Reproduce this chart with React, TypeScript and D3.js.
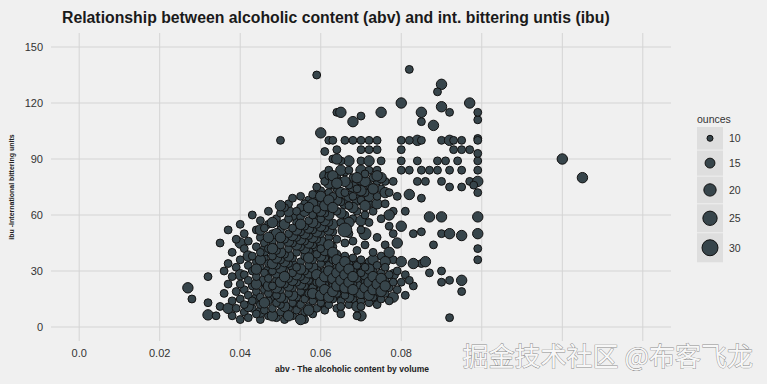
import React from "react";
import * as d3 from "d3";

// ---------- data ----------
const abvTicks = [0, 0.02, 0.04, 0.06, 0.08, 0.1, 0.12, 0.14];
const abvTickLabels = ["0.0", "0.02", "0.04", "0.06", "0.08", "0.1", "0.12", "0.14"];
const ibuTicks = [0, 30, 60, 90, 120, 150];
const ounceKeys = [10, 15, 20, 25, 30];

// 12 oz cans: [abv, ibu values]
const cans12: [number, number[]][] = [
  [0.028, [15]],
  [0.032, [13, 27]],
  [0.034, [6]],
  [0.035, [11, 45]],
  [0.036, [18, 30]],
  [0.037, [23, 34, 52]],
  [0.038, [6, 14, 27, 40]],
  [0.039, [10, 19, 32, 47]],
  [0.04, [4, 15, 23, 36, 55]],
  [0.041, [8, 12, 20, 28, 42, 50]],
  [0.042, [5, 17, 25, 33, 46]],
  [0.043, [10, 14, 22, 30, 38, 60]],
  [0.044, [7, 19, 27, 35, 43, 52]],
  [0.045, [4, 12, 16, 24, 32, 40, 48, 57]],
  [0.046, [9, 20, 29, 37, 45, 53]],
  [0.047, [6, 14, 18, 26, 34, 42, 55, 62]],
  [0.048, [10, 22, 30, 38, 46, 50]],
  [0.049, [5, 13, 17, 25, 33, 41, 58]],
  [0.05, [8, 12, 20, 28, 36, 44, 52, 55, 61, 100]],
  [0.051, [4, 15, 23, 31, 39, 47, 64]],
  [0.052, [10, 18, 26, 34, 42, 50, 58, 66]],
  [0.053, [6, 13, 21, 29, 37, 45, 53, 69]],
  [0.054, [9, 16, 24, 32, 40, 48, 56, 62]],
  [0.055, [5, 12, 19, 27, 35, 43, 51, 59, 64, 70]],
  [0.056, [4, 8, 15, 22, 30, 38, 46, 54, 66]],
  [0.057, [11, 18, 25, 33, 41, 49, 57, 68]],
  [0.058, [7, 14, 21, 28, 36, 44, 52, 60, 71]],
  [0.059, [10, 17, 24, 31, 39, 47, 55, 63, 75, 135]],
  [0.06, [13, 20, 27, 34, 42, 50, 58, 66, 73]],
  [0.061, [9, 11, 16, 23, 30, 37, 45, 53, 61, 69, 78, 94]],
  [0.062, [12, 19, 26, 33, 40, 48, 56, 64, 72, 81, 84, 100]],
  [0.063, [15, 22, 29, 36, 43, 51, 70, 76, 90, 100]],
  [0.064, [10, 18, 25, 32, 39, 47, 62, 74, 81, 95, 115]],
  [0.065, [7, 11, 14, 21, 28, 35, 56, 67, 78, 89]],
  [0.066, [17, 24, 31, 38, 45, 60, 72, 83, 100]],
  [0.067, [12, 20, 27, 34, 50, 65, 76, 84]],
  [0.068, [15, 23, 30, 37, 46, 58, 70, 80, 100]],
  [0.069, [6, 18, 26, 33, 41, 62, 74]],
  [0.07, [11, 14, 21, 29, 36, 52, 68, 78, 89, 95, 100, 113]],
  [0.071, [17, 24, 32, 44, 60, 72, 82]],
  [0.072, [13, 20, 27, 35, 56, 66, 76, 84, 95, 100]],
  [0.073, [16, 23, 30, 40, 62, 80]],
  [0.074, [12, 19, 26, 33, 48, 70, 78, 84, 95, 100]],
  [0.075, [15, 22, 29, 38, 58, 74, 89]],
  [0.076, [18, 25, 32, 44, 66, 78]],
  [0.077, [14, 21, 28, 40, 54, 72]],
  [0.078, [16, 24, 36, 50, 62, 78]],
  [0.079, [20, 30, 45, 70]],
  [0.08, [24, 35, 54, 84, 89, 95, 100]],
  [0.081, [17, 28, 62]],
  [0.082, [25, 71, 84, 100, 138]],
  [0.083, [22, 34, 50]],
  [0.084, [78, 89]],
  [0.085, [34, 51, 69, 84, 100, 110]],
  [0.086, [35, 78]],
  [0.087, [29, 59, 84]],
  [0.088, [44]],
  [0.089, [84, 89, 126]],
  [0.09, [24, 30, 50, 59, 78, 100]],
  [0.091, [89]],
  [0.092, [5, 25, 50, 75, 84, 115]],
  [0.093, [95, 100]],
  [0.094, [89]],
  [0.095, [19, 25, 49, 75, 84, 95, 100]],
  [0.097, [78, 95]],
  [0.098, [76]],
  [0.099, [36, 42, 50, 59, 72, 84, 89, 93, 100, 101, 111, 115]],
];

// 16 oz cans: [abv, ibu values]
const cans16: [number, number[]][] = [
  [0.027, [21]],
  [0.032, [6.5]],
  [0.037, [10]],
  [0.04, [28, 45]],
  [0.042, [11, 38]],
  [0.044, [15, 23, 31]],
  [0.045, [8, 36, 52]],
  [0.046, [13, 25, 41]],
  [0.047, [22, 30, 48]],
  [0.048, [6, 16, 34, 42, 56]],
  [0.049, [21, 29, 37, 50]],
  [0.05, [16, 24, 40, 48, 65]],
  [0.051, [11, 27, 35, 55]],
  [0.052, [6, 22, 38, 46, 62]],
  [0.053, [17, 25, 33, 49, 60]],
  [0.054, [12, 28, 44, 52]],
  [0.055, [4, 23, 31, 47, 55]],
  [0.056, [18, 26, 42, 50, 62]],
  [0.057, [9, 29, 37, 45, 53, 64]],
  [0.058, [18, 32, 40, 48, 56, 66]],
  [0.059, [20, 28, 43, 51, 60, 70]],
  [0.06, [17, 24, 38, 46, 54, 62, 70, 104]],
  [0.061, [20, 27, 41, 57, 65, 81]],
  [0.062, [16, 30, 44, 52, 60, 68, 77]],
  [0.063, [19, 26, 40, 55, 64, 81]],
  [0.064, [22, 29, 36, 68, 77, 90]],
  [0.065, [17, 25, 32, 61, 72, 84, 115]],
  [0.066, [21, 28, 35, 66, 78]],
  [0.067, [16, 24, 31, 56, 70, 89]],
  [0.068, [20, 27, 34, 64, 75, 110]],
  [0.069, [11, 22, 30, 68, 80]],
  [0.07, [6, 18, 26, 33, 57, 73, 84]],
  [0.071, [21, 28, 65, 78]],
  [0.072, [17, 24, 31, 70, 89]],
  [0.073, [20, 27, 36, 74]],
  [0.074, [15, 23, 66, 81]],
  [0.075, [19, 26, 80, 115]],
  [0.076, [22, 35, 72]],
  [0.077, [40, 60]],
  [0.078, [16, 28]],
  [0.079, [45]],
  [0.08, [35, 54, 120]],
  [0.082, [71]],
  [0.083, [34]],
  [0.084, [100]],
  [0.085, [115]],
  [0.086, [35]],
  [0.087, [59]],
  [0.088, [108]],
  [0.09, [59, 118, 130]],
  [0.092, [50, 100]],
  [0.095, [25, 49]],
  [0.097, [120]],
  [0.099, [50, 59, 78]],
  [0.12, [90]],
  [0.125, [80]],
];

// larger cans: [abv, ibu, ounces]
const cansLarge: [number, number, number][] = [
  [0.05, 32, 19.2],
  [0.057, 24, 24],
  [0.062, 36, 19.2],
  [0.066, 52, 24],
  [0.071, 50, 19.2],
];

// ---------- layout ----------
const W = 767;
const H = 384;
const FONT = "'Liberation Sans', Arial, Helvetica, sans-serif";

const x = d3.scaleLinear().domain([-0.007, 0.147]).range([51, 671]);
const y = d3.scaleLinear().domain([-7.5, 157.5]).range([341, 33]);
const sizeNorm = d3.scaleLinear().domain([8.4, 32]).range([0, 1]).clamp(true);
const radius = (oz: number) => 1.64 + 7.17 * Math.sqrt(sizeNorm(oz));

type Pt = { abv: number; ibu: number; oz: number; k: number };

function buildPoints(): Pt[] {
  const pts: Pt[] = [];
  cans12.forEach(([abv, ibus]) => ibus.forEach((ibu) => pts.push({ abv, ibu, oz: 12, k: 0 })));
  cans16.forEach(([abv, ibus]) => ibus.forEach((ibu) => pts.push({ abv, ibu, oz: 16, k: 0 })));
  cansLarge.forEach(([abv, ibu, oz]) => pts.push({ abv, ibu, oz, k: 0 }));
  pts.forEach((p) => {
    p.k = (Math.round(p.abv * 1000) * 37 + Math.round(p.ibu * 2) * 11) % 17;
  });
  return d3.sort(pts, (a, b) => a.k - b.k);
}

const POINT_FILL = "#37454b";
const POINT_STROKE = "#111111";
const BG = "#f0f0f0";

export default function App() {
  const points = buildPoints();

  // legend key geometry
  const keyHeights = ounceKeys.map((oz) => 18 + 0.65 * 2 * radius(oz));
  const keyTops: number[] = [];
  let acc = 127;
  keyHeights.forEach((h) => {
    keyTops.push(acc);
    acc += h + 1;
  });

  const [x0, x1] = x.range();
  const [y0, y1] = y.range();

  return (
    <svg
      width={W}
      height={H}
      style={{ position: "absolute", left: 0, top: 0, display: "block" }}
      fontFamily={FONT}
    >
      <rect x={0} y={0} width={W} height={H} fill={BG} />

      {/* grid */}
      {abvTicks.map((t) => (
        <line key={"vx" + t} x1={x(t)} x2={x(t)} y1={y1} y2={y0} stroke="#d4d4d4" strokeWidth={1} />
      ))}
      {ibuTicks.map((t) => (
        <line key={"hy" + t} x1={x0} x2={x1} y1={y(t)} y2={y(t)} stroke="#d4d4d4" strokeWidth={1} />
      ))}

      {/* points */}
      <g>
        {points.map((p, i) => (
          <circle
            key={i}
            cx={x(p.abv)}
            cy={y(p.ibu)}
            r={radius(p.oz) - 0.5}
            fill={POINT_FILL}
            stroke={POINT_STROKE}
            strokeWidth={1}
          />
        ))}
      </g>

      {/* y tick labels */}
      {ibuTicks.map((t) => (
        <text key={"yl" + t} x={43} y={y(t)} dy="0.36em" textAnchor="end" fontSize={11} fill="#333">
          {t}
        </text>
      ))}
      {/* x tick labels */}
      {abvTicks.map((t, i) => (
        <text key={"xl" + t} x={x(t)} y={356.5} textAnchor="middle" fontSize={11} fill="#333">
          {abvTickLabels[i]}
        </text>
      ))}

      {/* axis titles */}
      <text x={352} y={372} textAnchor="middle" fontSize={8.5} fontWeight="bold" fill="#222">
        abv - The alcoholic content by volume
      </text>
      <text
        transform={`translate(14,${(y0 + y1) / 2}) rotate(-90)`}
        textAnchor="middle"
        fontSize={7}
        fontWeight="bold"
        fill="#222"
      >
        ibu -International bittering units
      </text>

      {/* title */}
      <text x={62} y={23} fontSize={15.8} fontWeight="bold" fill="#1a1a1a">
        Relationship between alcoholic content (abv) and int. bittering untis (ibu)
      </text>

      {/* legend */}
      <text x={697} y={122.5} fontSize={10.5} fill="#333">
        ounces
      </text>
      {ounceKeys.map((oz, i) => {
        const h = keyHeights[i];
        const top = keyTops[i];
        const cy = top + h / 2;
        return (
          <g key={"lg" + oz}>
            <rect x={697} y={top} width={26} height={h} fill="#dedede" />
            <circle cx={710} cy={cy} r={radius(oz) - 0.5} fill={POINT_FILL} stroke={POINT_STROKE} strokeWidth={1} />
            <text x={729} y={cy} dy="0.36em" fontSize={10.5} fill="#333">
              {oz}
            </text>
          </g>
        );
      })}

      {/* watermark (overlaid on the chart, covering the right-most tick labels) */}
      <rect x={462} y={342} width={174} height={27} fill={BG} />
      <rect x={636} y={349} width={12} height={20} fill={BG} />
      <rect x={648} y={342} width={108} height={27} fill={BG} />
      <text
        x={753}
        y={366}
        textAnchor="end"
        fontSize={26}
        fontFamily="'Noto Sans CJK SC', sans-serif"
        fill="#f7f7f7"
        stroke="#8c8c8c"
        strokeWidth={0.9}
        style={{ paintOrder: "stroke" }}
      >
        掘金技术社区 @布客飞龙
      </text>
    </svg>
  );
}
